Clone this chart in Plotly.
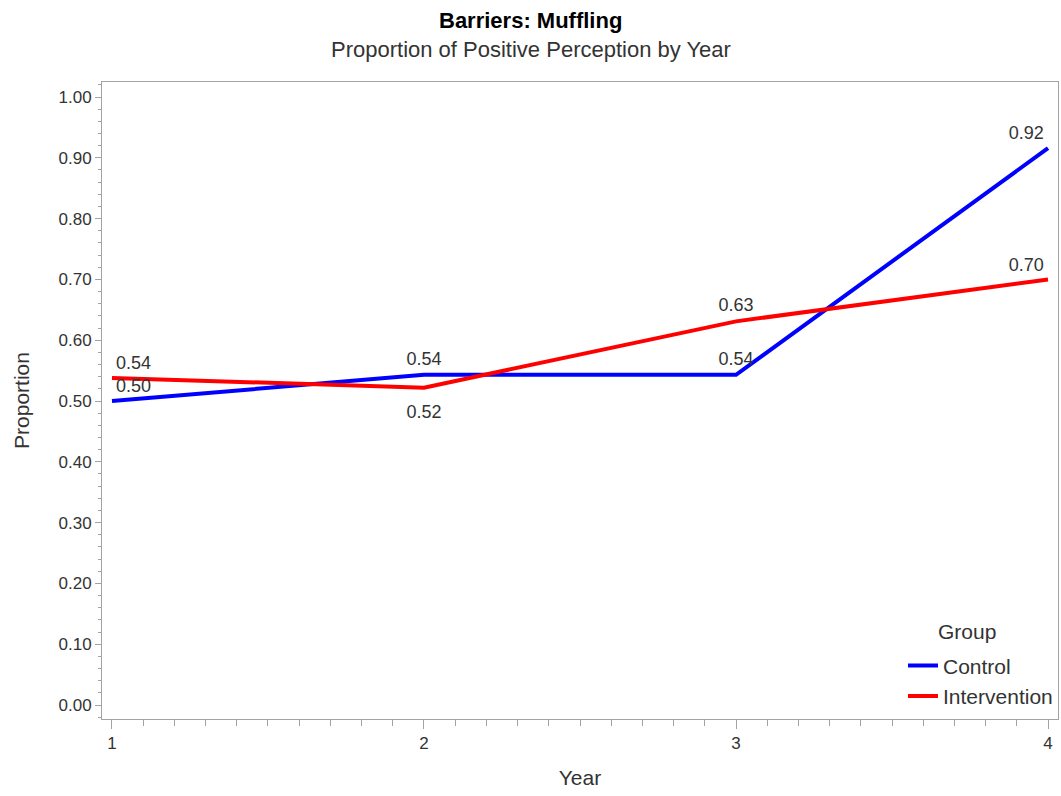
import plotly.graph_objects as go

years = [1, 2, 3, 4]
control = [0.50, 0.543, 0.543, 0.916]
intervention = [0.538, 0.522, 0.631, 0.70]
control_labels = ["0.50", "0.54", "0.54", "0.92"]
intervention_labels = ["0.54", "0.52", "0.63", "0.70"]
control_pos = ["top right", "top center", "top center", "top left"]
intervention_pos = ["top right", "bottom center", "top center", "top left"]
y_ticks = [0.0, 0.1, 0.2, 0.3, 0.4, 0.5, 0.6, 0.7, 0.8, 0.9, 1.0]
y_tick_labels = ["0.00", "0.10", "0.20", "0.30", "0.40", "0.50", "0.60", "0.70", "0.80", "0.90", "1.00"]

FONT = "Liberation Sans, Arial, sans-serif"
TXT = "#333333"
AX = "#a0a4a8"

# invisible marker sizes only used to offset the data labels from the line
S_TOP, S_SIDE, S_BOT = 7, 5, 26

def label_sizes(positions):
    out = []
    for p in positions:
        if p.startswith("bottom"):
            out.append(S_BOT)
        elif p.endswith("center"):
            out.append(S_TOP)
        else:
            out.append(S_SIDE)
    return out

fig = go.Figure()
fig.add_trace(go.Scatter(
    x=years, y=control, mode="lines", name="Control",
    line=dict(color="#0000ff", width=4),
))
fig.add_trace(go.Scatter(
    x=years, y=intervention, mode="lines", name="Intervention",
    line=dict(color="#ff0000", width=4),
))
fig.add_trace(go.Scatter(
    x=years, y=control, mode="markers+text", showlegend=False, hoverinfo="skip",
    marker=dict(size=label_sizes(control_pos), opacity=0, color="#0000ff"),
    text=control_labels, textposition=control_pos,
    textfont=dict(family=FONT, size=18, color=TXT),
))
fig.add_trace(go.Scatter(
    x=years, y=intervention, mode="markers+text", showlegend=False, hoverinfo="skip",
    marker=dict(size=label_sizes(intervention_pos), opacity=0, color="#ff0000"),
    text=intervention_labels, textposition=intervention_pos,
    textfont=dict(family=FONT, size=18, color=TXT),
))

W, H = 1061, 796
T, B, L, R = 82, 77, 102, 3
plot_h = H - T - B
plot_w = W - L - R

def px_x(px):
    return (px - L) / plot_w

def px_y(py):
    return (H - B - py) / plot_h

fig.update_layout(
    width=W, height=H,
    margin=dict(l=L, r=R, t=T, b=B),
    paper_bgcolor="white", plot_bgcolor="white",
    font=dict(family=FONT, color=TXT),
    showlegend=True,
    legend=dict(
        x=1, y=0.004, xanchor="right", yanchor="bottom",
        bgcolor="rgba(0,0,0,0)",
        font=dict(family=FONT, size=21, color=TXT),
        tracegroupgap=0,
    ),
    xaxis=dict(
        range=[0.968, 4.032], tickvals=years, ticktext=[str(y) for y in years],
        showgrid=False, zeroline=False,
        showline=True, linecolor=AX, linewidth=1, mirror=True,
        ticks="outside", ticklen=9, tickcolor=AX, tickwidth=1,
        tickfont=dict(family=FONT, size=17, color=TXT),
        minor=dict(ticks="outside", ticklen=6, dtick=0.1, tick0=1, tickcolor=AX, showgrid=False),
        title=dict(text="Year", font=dict(family=FONT, size=21, color=TXT), standoff=17),
    ),
    yaxis=dict(
        range=[-0.023, 1.0247], tickvals=y_ticks, ticktext=y_tick_labels,
        showgrid=False, zeroline=False,
        showline=True, linecolor=AX, linewidth=1, mirror=True,
        ticks="outside", ticklen=6, tickcolor=AX, tickwidth=1,
        tickfont=dict(family=FONT, size=17, color=TXT),
        minor=dict(ticks="outside", ticklen=3, dtick=0.02, tick0=0, tickcolor=AX, showgrid=False),
        title=dict(text="Proportion", font=dict(family=FONT, size=21, color=TXT), standoff=23),
    ),
    annotations=[
        dict(text="<b>Barriers: Muffling</b>", x=px_x(530.5), y=px_y(21),
             xref="paper", yref="paper", xanchor="center", yanchor="middle",
             showarrow=False, font=dict(family=FONT, size=22, color="black")),
        dict(text="Proportion of Positive Perception by Year", x=px_x(530.5), y=px_y(50),
             xref="paper", yref="paper", xanchor="center", yanchor="middle",
             showarrow=False, font=dict(family=FONT, size=22, color=TXT)),
        dict(text="Group", x=px_x(967), y=px_y(631),
             xref="paper", yref="paper", xanchor="center", yanchor="middle",
             showarrow=False, font=dict(family=FONT, size=21, color=TXT)),
    ],
)

fig.write_html("out.html", config={"displayModeBar": False},
               post_script="document.body.style.margin='0px';")
